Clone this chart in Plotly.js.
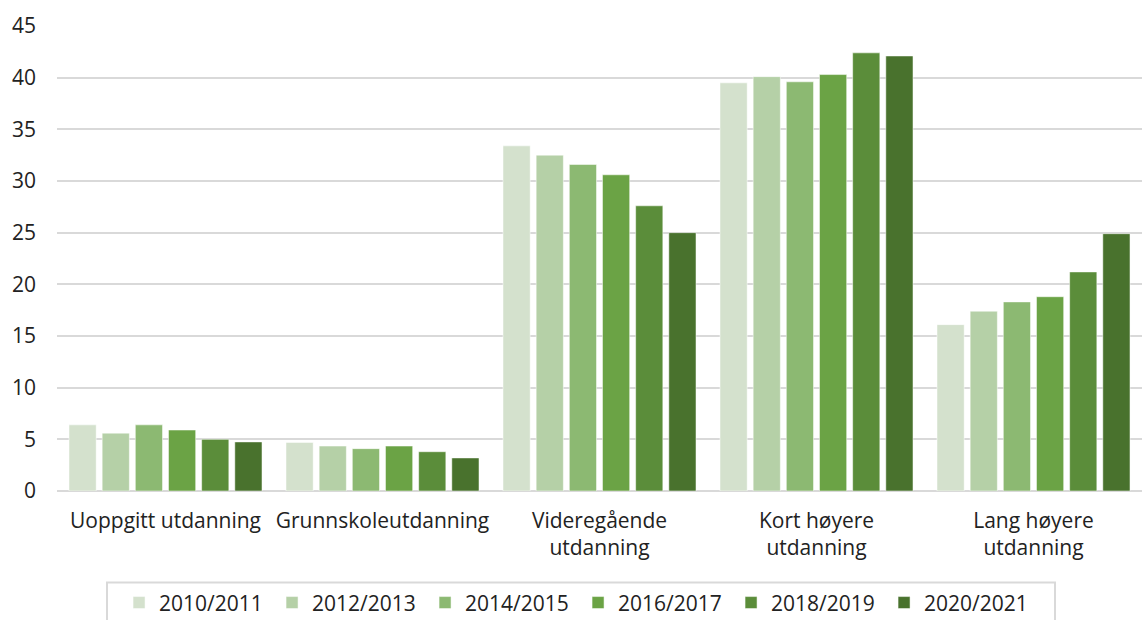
<!DOCTYPE html>
<html>
<head>
<meta charset="utf-8">
<script src="https://cdn.plot.ly/plotly-3.0.1.min.js"></script>
<style>html,body{margin:0;padding:0;background:#fff;}#chart{width:1142px;height:620px;}</style>
</head>
<body>
<div id="chart"></div>
<script>
const categories = ["Uoppgitt utdanning", "Grunnskoleutdanning", "Videregående<br>utdanning", "Kort høyere<br>utdanning", "Lang høyere<br>utdanning"];
const seriesNames = ["2010/2011", "2012/2013", "2014/2015", "2016/2017", "2018/2019", "2020/2021"];
const s2010 = [6.4, 4.7, 33.4, 39.5, 16.1];
const s2012 = [5.6, 4.35, 32.5, 40.1, 17.4];
const s2014 = [6.4, 4.1, 31.6, 39.6, 18.3];
const s2016 = [5.9, 4.35, 30.6, 40.3, 18.8];
const s2018 = [5.0, 3.8, 27.6, 42.4, 21.2];
const s2020 = [4.75, 3.2, 25.0, 42.1, 24.9];
const seriesValues = [s2010, s2012, s2014, s2016, s2018, s2020];
const colors = ["#D4E1CD", "#B5D0A7", "#8CB972", "#6BA345", "#5B8D3A", "#49722D"];

const traces = seriesNames.map((n, i) => ({
  type: 'bar',
  name: n,
  x: categories,
  y: seriesValues[i],
  marker: {color: colors[i], line: {color: 'rgba(255,255,255,0.5)', width: 1}},
  hoverinfo: 'x+y+name'
}));

const font = {family: '"Open Sans", sans-serif', size: 21, color: '#222'};
const layout = {
  width: 1142, height: 620,
  margin: {l: 57, r: 0, t: 26, b: 128.5, pad: 0, autoexpand: false},
  paper_bgcolor: '#fff', plot_bgcolor: '#fff',
  font: font,
  barmode: 'group',
  bargap: 0.083,
  bargroupgap: 0.18,
  showlegend: true,
  xaxis: {
    showgrid: false, zeroline: false, showline: false, ticks: '',
    tickfont: font, ticklabelstandoff: 15, automargin: false
  },
  yaxis: {
    range: [0, 45], tickvals: [0,5,10,15,20,25,30,35,40,45],
    showgrid: true, gridcolor: '#D9D9D9', gridwidth: 2,
    zeroline: true, zerolinecolor: '#D9D9D9', zerolinewidth: 2,
    showline: false, ticks: '', tickfont: font, ticklabelstandoff: 20,
    automargin: false, fixedrange: true
  },
  shapes: [{
    type: 'rect', xref: 'paper', yref: 'paper',
    x0: 0.0461, x1: 0.9198, y0: -0.1966, y1: -0.33,
    line: {color: '#D9D9D9', width: 2}, fillcolor: 'rgba(0,0,0,0)', layer: 'above'
  }],
  legend: {
    orientation: 'h', x: 0.0572, xanchor: 'left', y: -0.1966, yanchor: 'top',
    borderwidth: 0, bgcolor: 'rgba(0,0,0,0)',
    font: font, entrywidth: 108, entrywidthmode: 'pixels',
    traceorder: 'normal', itemclick: false
  }
};
Plotly.newPlot('chart', traces, layout, {displayModeBar: false, staticPlot: true});
</script>
</body>
</html>
